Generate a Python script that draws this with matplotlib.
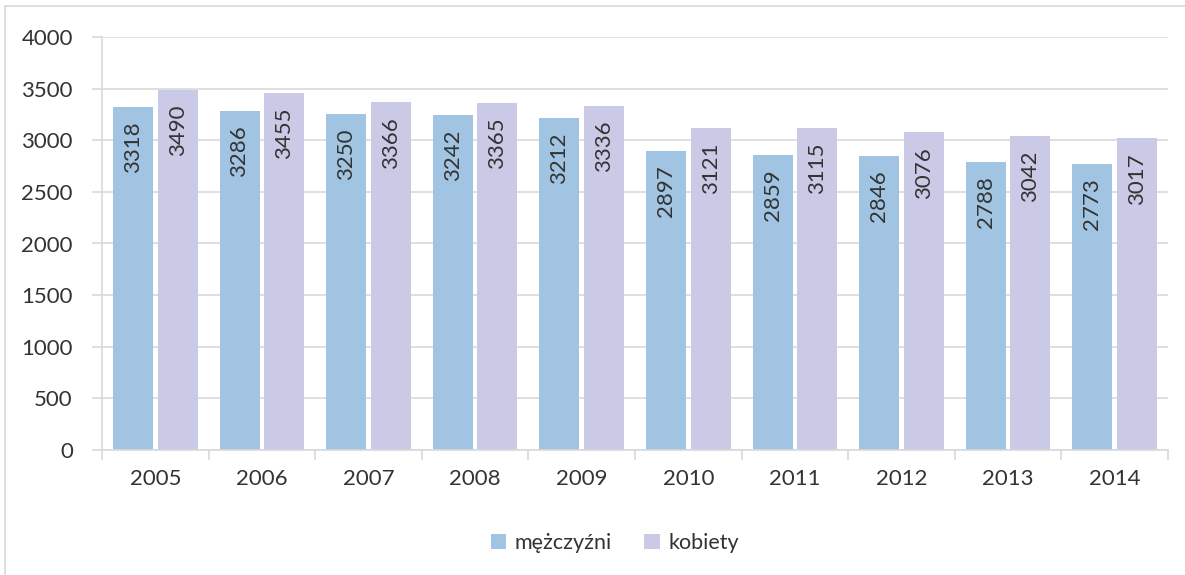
import numpy as np
import matplotlib.pyplot as plt
from matplotlib.patches import Rectangle

plt.rcParams['font.family'] = ['Lato', 'DejaVu Sans']

years = ['2005', '2006', '2007', '2008', '2009', '2010', '2011', '2012', '2013', '2014']
men = [3318, 3286, 3250, 3242, 3212, 2897, 2859, 2846, 2788, 2773]
women = [3490, 3455, 3366, 3365, 3336, 3121, 3115, 3076, 3042, 3017]

c_men = '#A0C4E2'
c_women = '#CBCAE6'
grid_c = '#D9D9D9'
txt_c = '#333333'

fig = plt.figure(figsize=(11.85, 5.75), dpi=100)
# outer chart border (partially cropped like the source)
fig.patches.append(Rectangle((5 / 1185, -0.1), 1.2, 1 - 6 / 575 + 0.1,
                             transform=fig.transFigure, fill=False,
                             edgecolor=grid_c, linewidth=1.2))

ax = fig.add_axes([102 / 1185, 1 - 450 / 575, (1168 - 102) / 1185, (450 - 37) / 575])

x = np.arange(len(years))
w = 0.375
off = 0.21
b1 = ax.bar(x - off, men, width=w, color=c_men, label='mężczyźni', zorder=2)
b2 = ax.bar(x + off, women, width=w, color=c_women, label='kobiety', zorder=2)

for bars, vals in ((b1, men), (b2, women)):
    for r, v in zip(bars, vals):
        ax.text(r.get_x() + r.get_width() / 2, v - 140, str(v), rotation=90,
                ha='center', va='top', fontsize=16, color=txt_c, zorder=3)

ax.set_xlim(-0.5, len(years) - 0.5)
ax.set_ylim(0, 4000)
ax.set_yticks(range(0, 4001, 500))
ax.yaxis.grid(True, color=grid_c, linewidth=1.2, zorder=0)
ax.set_axisbelow(True)

ax.set_xticks(x)
ax.set_xticklabels(years)
ax.set_xticks(np.arange(-0.5, len(years), 1), minor=True)
ax.tick_params(axis='x', which='major', length=0, pad=14, labelsize=16, labelcolor=txt_c)
ax.tick_params(axis='x', which='minor', length=7, color=grid_c, width=1.2)
ax.tick_params(axis='y', length=7, color=grid_c, width=1.2, pad=14, labelsize=16, labelcolor=txt_c)

for s in ('top', 'right'):
    ax.spines[s].set_visible(False)
for s in ('left', 'bottom'):
    ax.spines[s].set_color(grid_c)
    ax.spines[s].set_linewidth(1.2)

fig.legend(handles=[b1, b2], loc='center', bbox_to_anchor=(615 / 1185, 1 - 543 / 575),
           ncol=2, frameon=False, fontsize=15.5, handlelength=0.7, handleheight=0.7,
           handletextpad=0.4, columnspacing=1.5, labelcolor=txt_c)

fig.savefig('out.png', dpi=100)
